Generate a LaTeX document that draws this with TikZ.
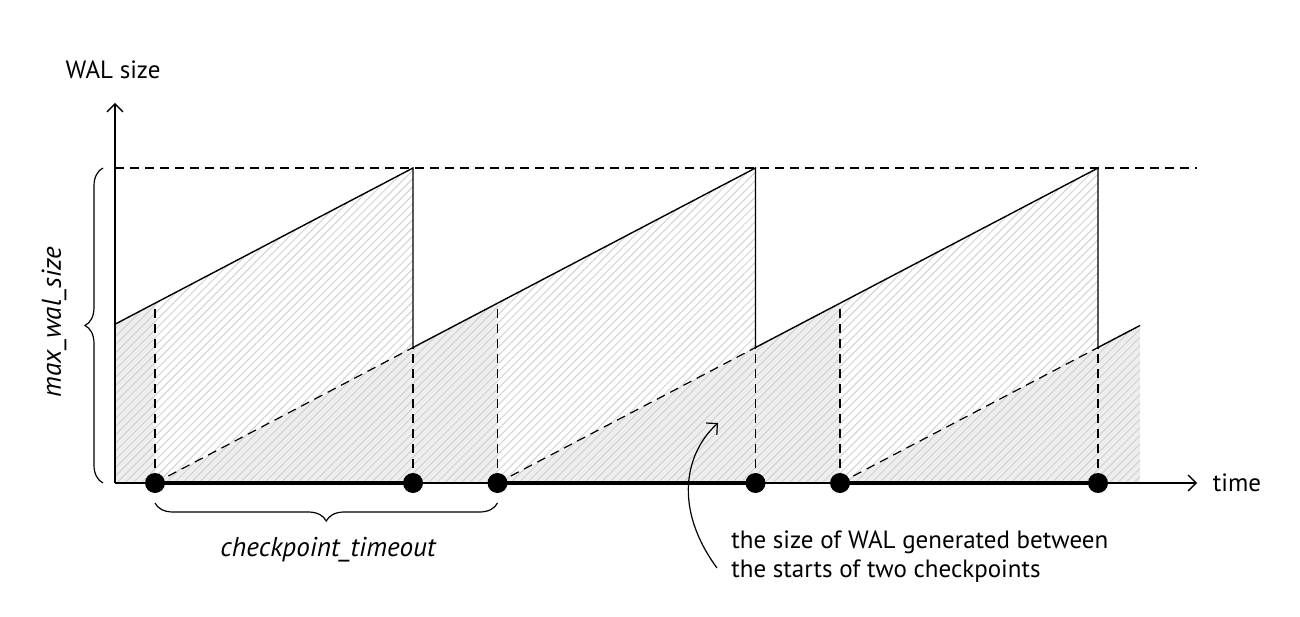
\documentclass[tikz,border=0pt]{standalone}
\usepackage{fontspec}
\setmainfont{PT Sans}
\usetikzlibrary{decorations.pathreplacing,patterns.meta,arrows.meta}
\definecolor{fillgray}{HTML}{EEEEEE}
\definecolor{hatchgray}{HTML}{D2D2D2}
\tikzset{
  thinline/.style={line width=0.7pt},
  dashline/.style={line width=0.6pt, dash pattern=on 4.5pt off 3pt},
  axisline/.style={line width=0.7pt, -{Straight Barb[length=4pt,width=8pt]}},
  thickline/.style={line width=1.6pt},
  dot/.style={circle, fill=black, inner sep=0pt, minimum size=10pt},
  hatch/.style={pattern={Lines[angle=45,distance=2.9pt,line width=0.5pt]}, pattern color=hatchgray},
  lbl/.style={font=\fontsize{12.5}{14.5}\selectfont, inner sep=0pt},
  ilbl/.style={font=\fontsize{13.6}{16}\selectfont\itshape, inner sep=0pt},
  brace/.style={decorate, decoration={brace, amplitude=9pt}, line width=0.6pt}
}
\begin{document}
\begin{tikzpicture}[x=0.5pt,y=0.5pt]
\useasboundingbox (-115,-133) rectangle (1185,483);
% gray fills
\fill[fillgray] (0,0) -- (0,158.8) -- (40,179.8) -- (40,0) -- cycle;
\fill[fillgray] (40,0) -- (298,135.5) -- (382.5,179.8) -- (382.5,0) -- cycle;
\fill[fillgray] (382.5,0) -- (640.5,135.5) -- (725,179.8) -- (725,0) -- cycle;
\fill[fillgray] (725,0) -- (983,135.5) -- (1025,157.5) -- (1025,0) -- cycle;
% hatching under solid curve
\fill[hatch] (0,0) -- (0,158.8) -- (298,315) -- (298,135.5) -- (640.5,315) -- (640.5,135.5) -- (983,315) -- (983,135.5) -- (1025,157.5) -- (1025,0) -- cycle;
% coordinates
\coordinate (O) at (0,0);
\coordinate (ytop) at (0,380);
\coordinate (xend) at (1082,0);
\coordinate (m0) at (0,315);
\coordinate (m1) at (1082,315);
% top dashed
\draw[dashline] (m0) -- (m1);
% dashed verticals and diagonals
\draw[dashline] (40,0) -- (40,179.8);
\draw[dashline] (382.5,0) -- (382.5,179.8);
\draw[dashline] (725,0) -- (725,179.8);
\draw[dashline] (298,0) -- (298,135.5);
\draw[dashline] (640.5,0) -- (640.5,135.5);
\draw[dashline] (983,0) -- (983,135.5);
\draw[dashline] (40,0) -- (298,135.5);
\draw[dashline] (382.5,0) -- (640.5,135.5);
\draw[dashline] (725,0) -- (983,135.5);
% solid sawtooth
\draw[thinline, line join=miter] (0,158.8) -- (298,315) -- (298,135.5) -- (640.5,315) -- (640.5,135.5) -- (983,315) -- (983,135.5) -- (1025,157.5);
% axes
\draw[axisline] (O) -- (ytop);
\draw[axisline] (O) -- (xend);
% dots and thick segments
\node[dot] (s1) at (40,0) {};
\node[dot] (e1) at (298,0) {};
\node[dot] (s2) at (382.5,0) {};
\node[dot] (e2) at (640.5,0) {};
\node[dot] (s3) at (725,0) {};
\node[dot] (e3) at (983,0) {};
\draw[thickline] (s1.center) -- (e1.center);
\draw[thickline] (s2.center) -- (e2.center);
\draw[thickline] (s3.center) -- (e3.center);
% labels
\node[lbl] (ylab) at (-2,413) {WAL size};
\node[lbl] (xlab) at (1122,0) {time};
% left brace
\coordinate (lb0) at (-12,0);
\coordinate (lb1) at (-12,315);
\draw[brace] (lb0) -- (lb1);
\node[ilbl, rotate=90] (maxw) at (-61,161) {max\_wal\_size};
% bottom brace
\coordinate (bb0) at (382.5,-20);
\coordinate (bb1) at (40,-20);
\draw[brace] (bb0) -- (bb1);
\node[ilbl] (cpt) at (213,-67) {checkpoint\_timeout};
% annotation
\node[lbl, anchor=west, align=left] (ann) at (616,-74) {the size of WAL generated between\\the starts of two checkpoints};
\coordinate (c0) at (602,-85);
\coordinate (c1) at (603,60);
\draw[line width=0.6pt, -{Straight Barb[length=4pt,width=8pt]}] (c0) .. controls (558,-25) and (570,30) .. (c1);
\end{tikzpicture}
\end{document}
